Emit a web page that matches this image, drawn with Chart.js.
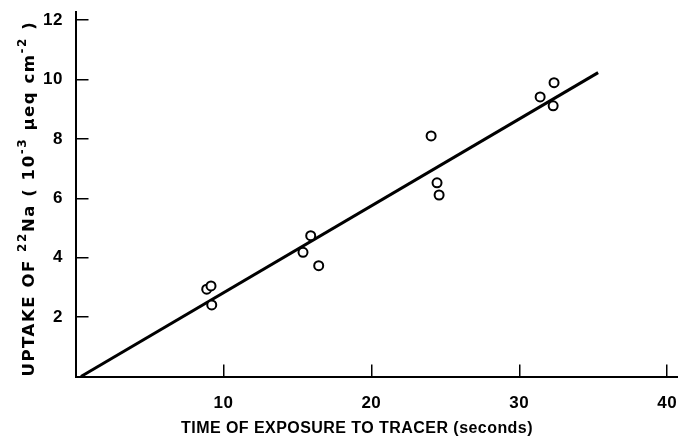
<!DOCTYPE html>
<html><head><meta charset="utf-8">
<script src="https://cdn.jsdelivr.net/npm/chart.js@4/dist/chart.umd.min.js"></script>
<style>
html,body{margin:0;padding:0;overflow:hidden;background:#fff;width:678px;height:439px}
#wrap{width:700px;height:439px;position:relative}
canvas{display:block}
</style></head><body>
<div id="wrap"><canvas id="c" width="700" height="439"></canvas></div>
<script>
// Measured points: time of exposure (s) and 22Na uptake (10^-3 µeq cm^-2)
const exposureTime = [8.87, 9.16, 9.21, 15.38, 15.90, 16.44, 24.04, 24.44, 24.58, 31.41, 32.29, 32.35];
const sodiumUptake = [2.94, 3.05, 2.41, 4.18, 4.74, 3.73, 8.10, 6.52, 6.11, 9.41, 9.11, 9.89];
// Fitted straight line end points
const fitLineTime = [0.37, 35.33];
const fitLineUptake = [0, 10.23];
// Axis ticks and titles
const xTickValues = [10, 20, 30, 40];
const yTickValues = [2, 4, 6, 8, 10, 12];
const xAxisTitle = 'TIME OF EXPOSURE TO TRACER (seconds)';
const yTitleText = ['UPTAKE OF ', '22', 'Na ( 10', '-3', ' µeq cm', '-2', ' )'];
const yTitleSuper = [false, true, false, true, false, true, false];

const pts = exposureTime.map((t, i) => ({x: t, y: sodiumUptake[i]}));
const fit = fitLineTime.map((t, i) => ({x: t, y: fitLineUptake[i]}));
const FONT = '"Liberation Sans", Arial, sans-serif';
const WIDE = '"DejaVu Sans", "Liberation Sans", sans-serif';

const spacingPlugin = {
  id: 'spacing',
  beforeDraw(chart) { chart.ctx.letterSpacing = '0.5px'; }
};

const titlesPlugin = {
  id: 'axisTitles',
  afterDraw(chart) {
    const ctx = chart.ctx;
    const area = chart.chartArea;
    // x axis title
    ctx.save();
    ctx.fillStyle = '#000';
    ctx.letterSpacing = '0.45px';
    ctx.font = 'bold 16px ' + FONT;
    ctx.textAlign = 'center';
    ctx.textBaseline = 'middle';
    ctx.fillText(xAxisTitle, 357, 429);
    ctx.restore();
    // y axis title (rotated, with superscripts)
    ctx.save();
    ctx.fillStyle = '#000';
    ctx.letterSpacing = '1.55px';
    ctx.textBaseline = 'alphabetic';
    ctx.textAlign = 'left';
    ctx.translate(33.5, area.bottom);
    ctx.rotate(-Math.PI / 2);
    let pos = 0;
    yTitleText.forEach((txt, i) => {
      const sup = yTitleSuper[i];
      ctx.font = sup ? 'bold 12px ' + WIDE : 'bold 16.5px ' + WIDE;
      ctx.fillText(txt, pos, sup ? -7.5 : 0);
      pos += ctx.measureText(txt).width;
    });
    ctx.restore();
  }
};

new Chart(document.getElementById('c'), {
  type: 'scatter',
  data: {
    datasets: [
      {type: 'line', data: fit, borderColor: '#000', borderWidth: 3, pointRadius: 0, showLine: true, fill: false, clip: false, order: 2},
      {data: pts, pointStyle: 'circle', pointRadius: 4.5, pointBorderWidth: 2, pointBackgroundColor: '#fff', pointBorderColor: '#000', order: 1}
    ]
  },
  plugins: [spacingPlugin, titlesPlugin],
  options: {
    responsive: false, animation: false, devicePixelRatio: 1,
    layout: {padding: {top: 12, right: 18, left: 0, bottom: 0}},
    plugins: {legend: {display: false}, tooltip: {enabled: false}},
    scales: {
      x: {
        type: 'linear', min: 0, max: 41,
        afterBuildTicks: s => { s.ticks = xTickValues.map(v => ({value: v})); },
        afterFit: s => { s.height = 62.5; s.paddingLeft = 0; s.paddingRight = 0; },
        grid: {display: true, drawOnChartArea: false, drawTicks: true, tickLength: -12, color: '#000', lineWidth: 1.5},
        border: {display: true, color: '#000', width: 2},
        ticks: {color: '#000', padding: 29, maxRotation: 0, font: {family: FONT, weight: 'bold', size: 17, lineHeight: 1.2}},
        title: {display: false}
      },
      y: {
        type: 'linear', min: 0, max: 12.27,
        afterBuildTicks: s => { s.ticks = yTickValues.map(v => ({value: v})); },
        afterFit: s => { s.width = 75.5; s.paddingTop = 0; s.paddingBottom = 0; },
        grid: {display: true, drawOnChartArea: false, drawTicks: true, tickLength: -13, color: '#000', lineWidth: 1.5},
        border: {display: true, color: '#000', width: 2},
        ticks: {color: '#000', padding: 25.5, font: {family: FONT, weight: 'bold', size: 17, lineHeight: 1.2}},
        title: {display: false}
      }
    }
  }
});
</script>
</body></html>
